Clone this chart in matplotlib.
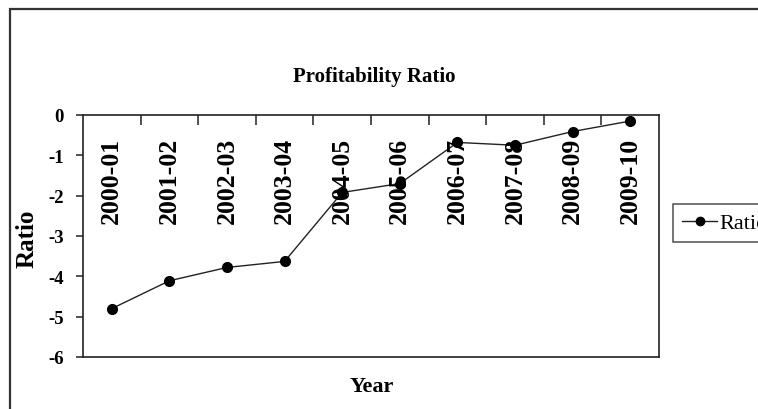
import matplotlib
matplotlib.use("Agg")
import matplotlib.pyplot as plt
from matplotlib.patches import Rectangle

years = ["2000-01", "2001-02", "2002-03", "2003-04", "2004-05",
         "2005-06", "2006-07", "2007-08", "2008-09", "2009-10"]
ratio = [-4.8, -4.11, -3.78, -3.63, -1.92, -1.7, -0.68, -0.75, -0.41, -0.15]
yticks = [0, -1, -2, -3, -4, -5, -6]
title = "Profitability Ratio"
xlabel = "Year"
ylabel = "Ratio"
legend_label = "Ratio"

W, H = 758, 410
fig = plt.figure(figsize=(W / 100, H / 100), dpi=100)
fig.patch.set_facecolor("white")
serif = "Liberation Serif"

ax = fig.add_axes([83 / W, 1 - 358 / H, 576 / W, 242 / H])
n = len(years)
xs = list(range(n))
line, = ax.plot(xs, ratio, color="#222222", lw=1.0, marker="o", ms=7,
                mfc="black", mec="black", zorder=2, label=legend_label)
ax.set_xlim(-0.5, n - 0.5)
ax.set_ylim(-6, 0)

# x ticks at category boundaries, on top spine, pointing inward
ax.set_xticks([i + 0.5 for i in range(n - 1)])
ax.set_xticklabels([])
ax.xaxis.set_ticks_position("top")
ax.tick_params(axis="x", direction="in", length=7, width=1.1, color="#222222")

ax.set_yticks(yticks)
ax.set_yticklabels([str(v) for v in yticks], fontfamily=serif,
                   fontweight="bold", fontsize=13.5)
ax.tick_params(axis="y", direction="out", length=5, width=1.1,
               color="#222222", pad=9)
for s in ax.spines.values():
    s.set_color("#222222")
    s.set_linewidth(1.2)

# category labels, rotated, drawn inside the plot under the top spine
for i, lab in enumerate(years):
    ax.text(i, 1 - 22 / 242, lab, transform=ax.get_xaxis_transform(),
            rotation=90, ha="center", va="top", fontfamily=serif,
            fontweight="bold", fontsize=18.5, color="black", zorder=3)

fig.text(374 / W, 1 - 77 / H, title, ha="center", va="center",
         fontfamily=serif, fontweight="bold", fontsize=15)
fig.text(372 / W, 1 - 387 / H, xlabel, ha="center", va="center",
         fontfamily=serif, fontweight="bold", fontsize=16)
fig.text(27 / W, 1 - 239 / H, ylabel, ha="center", va="center",
         rotation=90, fontfamily=serif, fontweight="bold", fontsize=18)

leg = ax.legend(handles=[line], loc="upper left",
                bbox_to_anchor=(673 / W, 1 - 205 / H),
                bbox_transform=fig.transFigure, borderaxespad=0,
                frameon=True, fancybox=False, handlelength=1.6,
                handletextpad=0.08, borderpad=0.4,
                prop={"family": serif, "size": 16})
leg.get_frame().set_edgecolor("#222222")
leg.get_frame().set_linewidth(1.1)
for h in leg.legend_handles:
    h.set_markersize(6)

# outer border (extends beyond the right/bottom edges)
fig.patches.append(Rectangle((9.5 / W, -0.2), 1.2, 1.2 - 9.5 / H,
                             transform=fig.transFigure, fill=False,
                             edgecolor="#333333", linewidth=1.6,
                             clip_on=False))

fig.savefig("out.png", dpi=100)
